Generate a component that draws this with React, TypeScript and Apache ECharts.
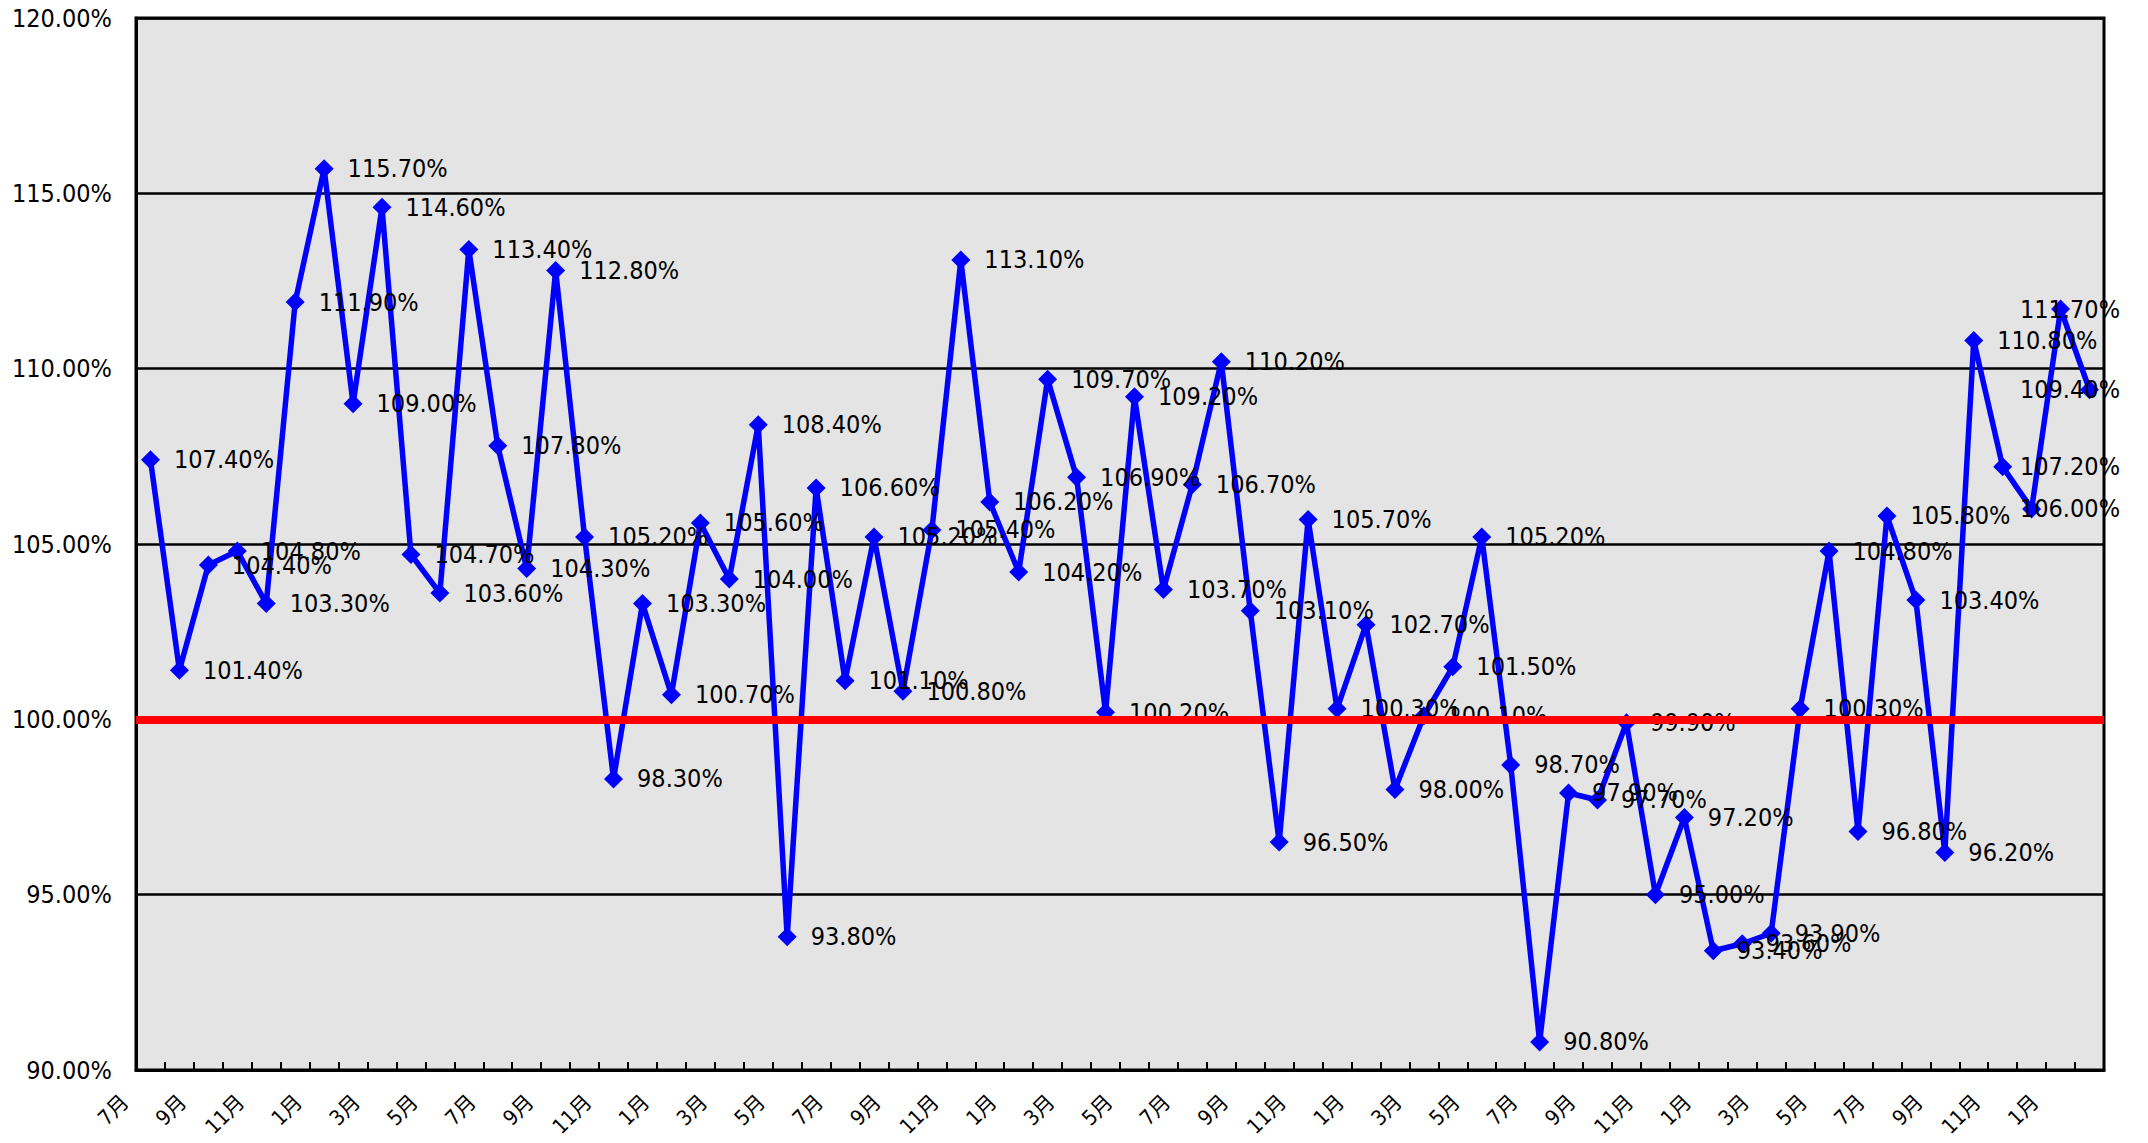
import React, { useEffect, useRef } from "react";
import * as echarts from "echarts";

const startMonth = 7;
const pointCount = 68;
const months: string[] = Array.from({ length: pointCount }, (_, i) => `${((startMonth - 1 + i) % 12) + 1}月`);

const ratioValues: number[] = [
  107.4, 101.4, 104.4, 104.8, 103.3, 111.9, 115.7, 109.0, 114.6, 104.7, 103.6, 113.4,
  107.8, 104.3, 112.8, 105.2, 98.3, 103.3, 100.7, 105.6, 104.0, 108.4, 93.8, 106.6,
  101.1, 105.2, 100.8, 105.4, 113.1, 106.2, 104.2, 109.7, 106.9, 100.2, 109.2, 103.7,
  106.7, 110.2, 103.1, 96.5, 105.7, 100.3, 102.7, 98.0, 100.1, 101.5, 105.2, 98.7,
  90.8, 97.9, 97.7, 99.9, 95.0, 97.2, 93.4, 93.6, 93.9, 100.3, 104.8, 96.8,
  105.8, 103.4, 96.2, 110.8, 107.2, 106.0, 111.7, 109.4,
];

const yMin = 90;
const yMax = 120;
const yStep = 5;
const baseline = 100;

const FONT = "'DejaVu Sans Condensed', 'Noto Sans CJK JP', sans-serif";
const W = 2148;
const H = 1143;

export default function App() {
  const ref = useRef<HTMLDivElement>(null);
  useEffect(() => {
    if (!ref.current) return;
    const chart = echarts.init(ref.current, undefined, { renderer: "svg" });
    chart.setOption({
      animation: false,
      backgroundColor: "#ffffff",
      grid: {
        left: 136,
        right: 44,
        top: 18,
        bottom: 73,
        show: true,
        backgroundColor: "#e4e4e4",
        borderColor: "#000000",
        borderWidth: 3,
      },
      xAxis: {
        type: "category",
        data: months,
        boundaryGap: true,
        axisLine: { show: true, lineStyle: { color: "#000", width: 3 } },
        axisTick: { show: true, inside: true, length: 8, interval: 0, lineStyle: { color: "#000", width: 2 } },
        axisLabel: {
          interval: 1,
          rotate: 45,
          margin: 3,
          color: "#000",
          formatter: (v: string) => `{a|${v}}`,
          rich: {
            a: {
              fontFamily: FONT,
              fontSize: 21,
              color: "#000",
              padding: [0, 36, 0, 0],
            },
          },
        },
        splitLine: { show: false },
      },
      yAxis: {
        type: "value",
        min: yMin,
        max: yMax,
        interval: yStep,
        axisLine: { show: true, lineStyle: { color: "#000", width: 3 } },
        axisTick: { show: false },
        axisLabel: {
          margin: 24,
          color: "#000",
          fontFamily: FONT,
          fontSize: 25,
          formatter: (v: number) => `${v.toFixed(2)}%`,
        },
        splitLine: { show: true, lineStyle: { color: "#000", width: 2.5 } },
      },
      series: [
        {
          type: "line",
          data: ratioValues,
          symbol: "diamond",
          symbolSize: 19,
          lineStyle: { color: "#0000ff", width: 5.5 },
          itemStyle: { color: "#0000ff" },
          label: {
            show: true,
            position: "right",
            distance: 14,
            color: "#000",
            fontFamily: FONT,
            fontSize: 25,
            formatter: (p: any) => `${Number(p.value).toFixed(2)}%`,
          },
          labelLayout: (p: any) => {
            const limit = W - 28;
            const r = p.labelRect;
            const over = r.x + r.width - limit;
            return over > 0 ? { dx: -over } : {};
          },
          markLine: {
            silent: true,
            symbol: "none",
            label: { show: false },
            lineStyle: { color: "#ff0000", width: 8, type: "solid" },
            data: [{ yAxis: baseline }],
          },
          z: 3,
        },
      ],
    });
    return () => chart.dispose();
  }, []);
  return (
    <div
      ref={ref}
      style={{ position: "fixed", left: 0, top: 0, width: W, height: H, background: "#fff" }}
    />
  );
}
